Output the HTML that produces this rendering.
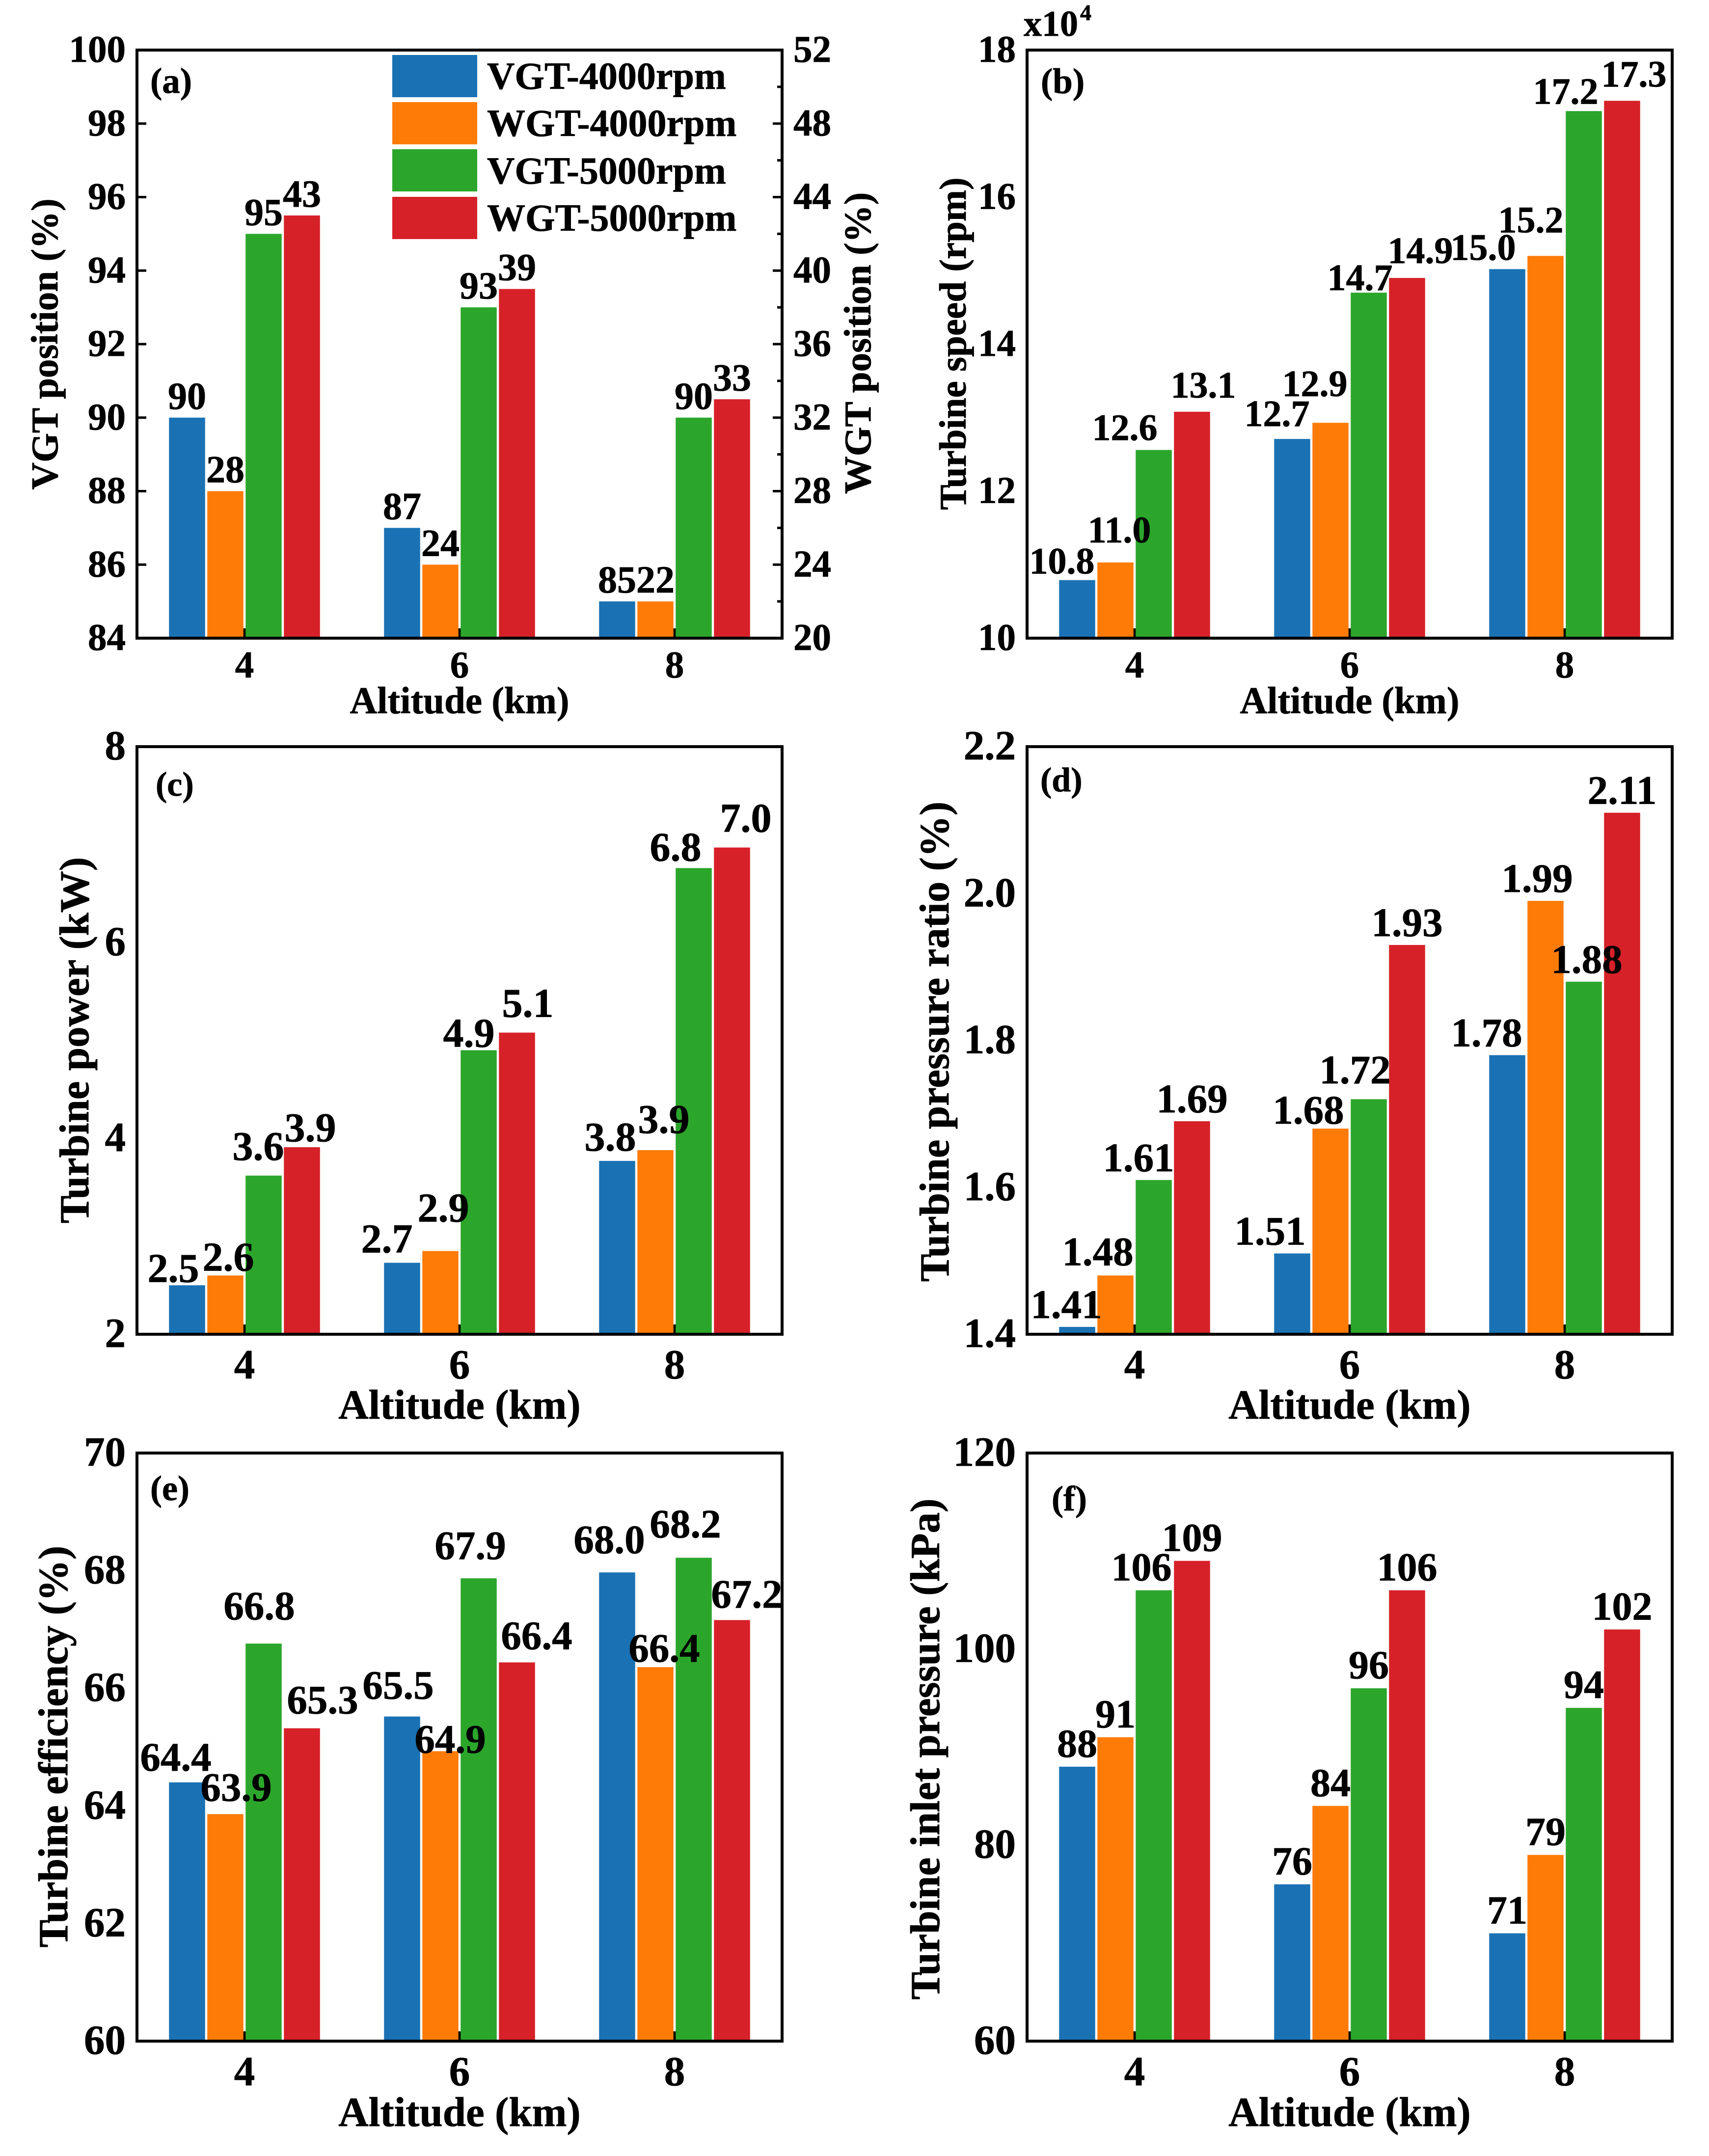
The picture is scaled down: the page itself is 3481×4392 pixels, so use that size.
<!DOCTYPE html>
<html lang="en">
<head>
<meta charset="utf-8">
<title>Turbine performance at altitude</title>
<style>
html,body{margin:0;padding:0;background:#fff}
svg{display:block}
text{font-family:"Liberation Serif",serif;font-weight:bold;fill:#000;stroke:#000;stroke-width:.8px}
.frame{fill:none;stroke:#000;stroke-width:6}
.t76{font-size:77px}.t84{font-size:85px}
</style>
</head>
<body>
<svg id="chart" xmlns="http://www.w3.org/2000/svg" width="3481" height="4392" viewBox="0 0 3481 4392">
<rect x="0" y="0" width="3481" height="4392" fill="#fff"/>

<g>
<g id="marks-a"></g>
<rect class="frame" x="279" y="102" width="1314" height="1198"/>
<g id="labels-a"></g>
<text class="t76" x="936" y="1453" text-anchor="middle">Altitude (km)</text>
<text class="t76" transform="translate(117 701) rotate(-90)" text-anchor="middle">VGT position (%)</text>
<text class="t76" transform="translate(1773 699) rotate(-90)" text-anchor="middle">WGT position (%)</text>
<text x="306" y="189" font-size="73">(a)</text>
</g>

<g>
<g id="marks-b"></g>
<rect class="frame" x="2092" y="102" width="1314" height="1198"/>
<g id="labels-b"></g>
<text class="t76" x="2749" y="1453" text-anchor="middle">Altitude (km)</text>
<text class="t76" transform="translate(1967 700) rotate(-90)" text-anchor="middle">Turbine speed (rpm)</text>
<text x="2120" y="190" font-size="73">(b)</text>
<text x="2085" y="73" font-size="74">x10</text>
<text x="2200" y="41" font-size="46">4</text>
</g>

<g>
<g id="marks-c"></g>
<rect class="frame" x="279" y="1521" width="1314" height="1197"/>
<g id="labels-c"></g>
<text class="t84" x="936" y="2890" text-anchor="middle">Altitude (km)</text>
<text class="t84" transform="translate(180 2119) rotate(-90)" text-anchor="middle">Turbine power (kW)</text>
<text x="317" y="1621" font-size="70">(c)</text>
</g>

<g>
<g id="marks-d"></g>
<rect class="frame" x="2092" y="1521" width="1314" height="1197"/>
<g id="labels-d"></g>
<text class="t84" x="2749" y="2890" text-anchor="middle">Altitude (km)</text>
<text class="t84" transform="translate(1932 2122) rotate(-90)" text-anchor="middle">Turbine pressure ratio (%)</text>
<text x="2119" y="1612" font-size="70">(d)</text>
</g>

<g>
<g id="marks-e"></g>
<rect class="frame" x="279" y="2960" width="1314" height="1198"/>
<g id="labels-e"></g>
<text class="t84" x="936" y="4331" text-anchor="middle">Altitude (km)</text>
<text class="t84" transform="translate(137 3558) rotate(-90)" text-anchor="middle">Turbine efficiency (%)</text>
<text x="306" y="3056" font-size="72">(e)</text>
</g>

<g>
<g id="marks-f"></g>
<rect class="frame" x="2092" y="2960" width="1314" height="1198"/>
<g id="labels-f"></g>
<text class="t84" x="2749" y="4331" text-anchor="middle">Altitude (km)</text>
<text class="t84" transform="translate(1913 3563) rotate(-90)" text-anchor="middle">Turbine inlet pressure (kPa)</text>
<text x="2142" y="3077" font-size="72">(f)</text>
</g>

<g>
<g>
<rect x="799" y="112" width="173" height="86" fill="#1A72B4"/>
<text x="992" y="181" font-size="78">VGT-4000rpm</text>
</g>
<g>
<rect x="799" y="208" width="173" height="86" fill="#FF7B08"/>
<text x="992" y="277" font-size="78">WGT-4000rpm</text>
</g>
<g>
<rect x="799" y="304" width="173" height="86" fill="#2BA62B"/>
<text x="992" y="374" font-size="78">VGT-5000rpm</text>
</g>
<g>
<rect x="799" y="401" width="173" height="86" fill="#D62128"/>
<text x="992" y="470" font-size="78">WGT-5000rpm</text>
</g>
</g>
</svg>

<script>
// ---- chart data ----
const altitudes = ['4', '6', '8'];
const seriesNames = ['VGT-4000rpm', 'WGT-4000rpm', 'VGT-5000rpm', 'WGT-5000rpm'];

// (a) VGT position (%) on the left axis, WGT position (%) on the right axis
const positionVgt4000 = [90, 87, 85];
const positionWgt4000 = [28, 24, 22];
const positionVgt5000 = [95, 93, 90];
const positionWgt5000 = [43, 39, 33];
const positionLeftTicks = ['84', '86', '88', '90', '92', '94', '96', '98', '100'];
const positionRightTicks = ['20', '24', '28', '32', '36', '40', '44', '48', '52'];
const positionRightMinorTicks = [22, 26, 30, 34, 38, 42, 46, 50];

// (b) Turbine speed (x10^4 rpm)
const speedVgt4000 = [10.79, 12.71, 15.02];
const speedWgt4000 = [11.03, 12.93, 15.2];
const speedVgt5000 = [12.56, 14.7, 17.17];
const speedWgt5000 = [13.08, 14.9, 17.31];
const speedTicks = ['10', '12', '14', '16', '18'];

// (c) Turbine power (kW)
const powerVgt4000 = [2.5, 2.73, 3.77];
const powerWgt4000 = [2.6, 2.85, 3.88];
const powerVgt5000 = [3.62, 4.9, 6.76];
const powerWgt5000 = [3.91, 5.08, 6.97];
const powerTicks = ['2', '4', '6', '8'];

// (d) Turbine pressure ratio
const ratioVgt4000 = [1.41, 1.51, 1.78];
const ratioWgt4000 = [1.48, 1.68, 1.99];
const ratioVgt5000 = [1.61, 1.72, 1.88];
const ratioWgt5000 = [1.69, 1.93, 2.11];
const ratioTicks = ['1.4', '1.6', '1.8', '2.0', '2.2'];

// (e) Turbine efficiency (%)
const efficiencyVgt4000 = [64.4, 65.52, 67.97];
const efficiencyWgt4000 = [63.86, 64.93, 66.36];
const efficiencyVgt5000 = [66.76, 67.87, 68.22];
const efficiencyWgt5000 = [65.32, 66.44, 67.16];
const efficiencyTicks = ['60', '62', '64', '66', '68', '70'];

// (f) Turbine inlet pressure (kPa)
const pressureVgt4000 = [88, 76, 71];
const pressureWgt4000 = [91, 84, 79];
const pressureVgt5000 = [106, 96, 94];
const pressureWgt5000 = [109, 106, 102];
const pressureTicks = ['60', '80', '100', '120'];

// ---- drawing ----
const NS = 'http://www.w3.org/2000/svg';
const seriesColors = ['#1A72B4', '#FF7B08', '#2BA62B', '#D62128'];
const seriesSlugs = ['vgt-4000rpm', 'wgt-4000rpm', 'vgt-5000rpm', 'wgt-5000rpm'];

function make(parent, tag, attrs, content) {
  const el = document.createElementNS(NS, tag);
  for (const k in attrs) el.setAttribute(k, attrs[k]);
  if (content !== undefined) el.textContent = content;
  parent.appendChild(el);
  return el;
}

function drawPanel(p) {
  const marks = document.getElementById('marks-' + p.id);
  const labels = document.getElementById('labels-' + p.id);
  const right = p.left + p.width;
  const bottom = p.top + p.height;
  const xScale = g => p.left + p.width * (g + 0.5) / altitudes.length;
  const yScale = v => bottom - (v - p.min) / (p.max - p.min) * p.height;
  const yScale2 = p.max2 === undefined ? yScale
    : v => bottom - (v - p.min2) / (p.max2 - p.min2) * p.height;

  altitudes.forEach((alt, g) => {
    const tick = make(marks, 'rect', {x: xScale(g) - 3, y: bottom - 20, width: 6, height: 20, fill: '#000'});
    
    
    const lab = make(marks, 'text', {x: xScale(g), y: bottom + p.xTickDrop, 'text-anchor': 'middle', 'font-size': p.tickSize}, alt);
    
    
  });

  p.ticks.forEach(t => {
    const y = yScale(parseFloat(t));
    if (p.showLeftTicks) {
      const tick = make(marks, 'rect', {x: p.left, y: y - 2.5, width: 19, height: 5, fill: '#000'});
      
      
    }
    const lab = make(marks, 'text', {x: p.left - 23, y: y + p.yTickDrop, 'text-anchor': 'end', 'font-size': p.tickSize}, t);
    
    
  });

  if (p.ticks2) {
    p.ticks2.forEach(t => {
      const y = yScale2(parseFloat(t));
      const tick = make(marks, 'rect', {x: right - 19, y: y - 2.5, width: 19, height: 5, fill: '#000'});
      
      
      const lab = make(marks, 'text', {x: right + 23, y: y + p.yTickDrop, 'text-anchor': 'start', 'font-size': p.tickSize}, t);
      
      
    });
    p.minor2.forEach(v => {
      const minor = make(marks, 'rect', {x: right - 10, y: yScale2(v) - 2.5, width: 10, height: 5, fill: '#000'});
      
      
    });
  }

  const pitch = 78, barWidth = 73.5;
  p.series.forEach((values, s) => {
    const scale = (p.secondary && p.secondary[s]) ? yScale2 : yScale;
    values.forEach((v, g) => {
      const cx = xScale(g) + (s - 1.5) * pitch;
      const top = scale(v);
      const bar = make(marks, 'rect', {x: cx - barWidth / 2, y: top, width: barWidth, height: Math.max(0, bottom - top), fill: seriesColors[s]});
      
      
      const n = p.nudge ? p.nudge[s][g] : [0, 0];
      const text = make(labels, 'text', {x: cx + n[0], y: top - n[1] - p.lift, 'text-anchor': 'middle', 'font-size': p.labelSize}, v.toFixed(p.decimals));
      
      
    });
  });
}

drawPanel({
  id: 'a', left: 279, top: 102, width: 1314, height: 1198, min: 84, max: 100, min2: 20, max2: 52,
  ticks: positionLeftTicks, ticks2: positionRightTicks, minor2: positionRightMinorTicks, showLeftTicks: true,
  series: [positionVgt4000, positionWgt4000, positionVgt5000, positionWgt5000],
  secondary: [false, true, false, true],
  decimals: 0, labelSize: 78, tickSize: 77, xTickDrop: 80, yTickDrop: 24, lift: 18
});
drawPanel({
  id: 'b', left: 2092, top: 102, width: 1314, height: 1198, min: 10, max: 18,
  ticks: speedTicks,
  series: [speedVgt4000, speedWgt4000, speedVgt5000, speedWgt5000],
  decimals: 1, labelSize: 76, tickSize: 77, xTickDrop: 80, yTickDrop: 24, lift: 3,
  nudge: [
    [[-31, 10], [-31, 23], [-49, 16]],
    [[8, 38], [-32, 51], [-30, 45]],
    [[-59, 17], [-18, 2], [-37, 12]],
    [[23, 26], [27, 27], [24, 26]]
  ]
});
drawPanel({
  id: 'c', left: 279, top: 1521, width: 1314, height: 1197, min: 2, max: 8,
  ticks: powerTicks,
  series: [powerVgt4000, powerWgt4000, powerVgt5000, powerWgt5000],
  decimals: 1, labelSize: 84, tickSize: 85, xTickDrop: 90, yTickDrop: 26, lift: 4,
  nudge: [
    [[-28, 3], [-31, 17], [-14, 17]],
    [[6, 6], [6, 56], [17, 31]],
    [[-11, 28], [-20, 3], [-37, 11]],
    [[17, 8], [22, 28], [28, 28]]
  ]
});
drawPanel({
  id: 'd', left: 2092, top: 1521, width: 1314, height: 1197, min: 1.4, max: 2.2,
  ticks: ratioTicks,
  series: [ratioVgt4000, ratioWgt4000, ratioVgt5000, ratioWgt5000],
  decimals: 2, labelSize: 83, tickSize: 85, xTickDrop: 90, yTickDrop: 26, lift: 4,
  nudge: [
    [[-22, 14], [-45, 14], [-42, 14]],
    [[-36, 17], [-45, 6], [-17, 14]],
    [[-31, 14], [-28, 28], [6, 14]],
    [[0, 14], [0, 14], [0, 14]]
  ]
});
drawPanel({
  id: 'e', left: 279, top: 2960, width: 1314, height: 1198, min: 60, max: 70,
  ticks: efficiencyTicks,
  series: [efficiencyVgt4000, efficiencyWgt4000, efficiencyVgt5000, efficiencyWgt5000],
  decimals: 1, labelSize: 83, tickSize: 85, xTickDrop: 90, yTickDrop: 26, lift: 0,
  nudge: [
    [[-23, 24], [-8, 36], [-16, 39]],
    [[22, 27], [20, -3], [18, 11]],
    [[-9, 49], [-17, 39], [-17, 41]],
    [[42, 30], [40, 27], [30, 25]]
  ]
});
drawPanel({
  id: 'f', left: 2092, top: 2960, width: 1314, height: 1198, min: 60, max: 120,
  ticks: pressureTicks,
  series: [pressureVgt4000, pressureWgt4000, pressureVgt5000, pressureWgt5000],
  decimals: 0, labelSize: 82, tickSize: 85, xTickDrop: 90, yTickDrop: 26, lift: 20,
  nudge: [
    [[0, 0], [0, 0], [0, 0]],
    [[0, 0], [0, 0], [0, 0]],
    [[-25, 0], [0, 0], [0, 0]],
    [[0, 0], [0, 0], [0, 0]]
  ]
});
</script>
</body>
</html>
